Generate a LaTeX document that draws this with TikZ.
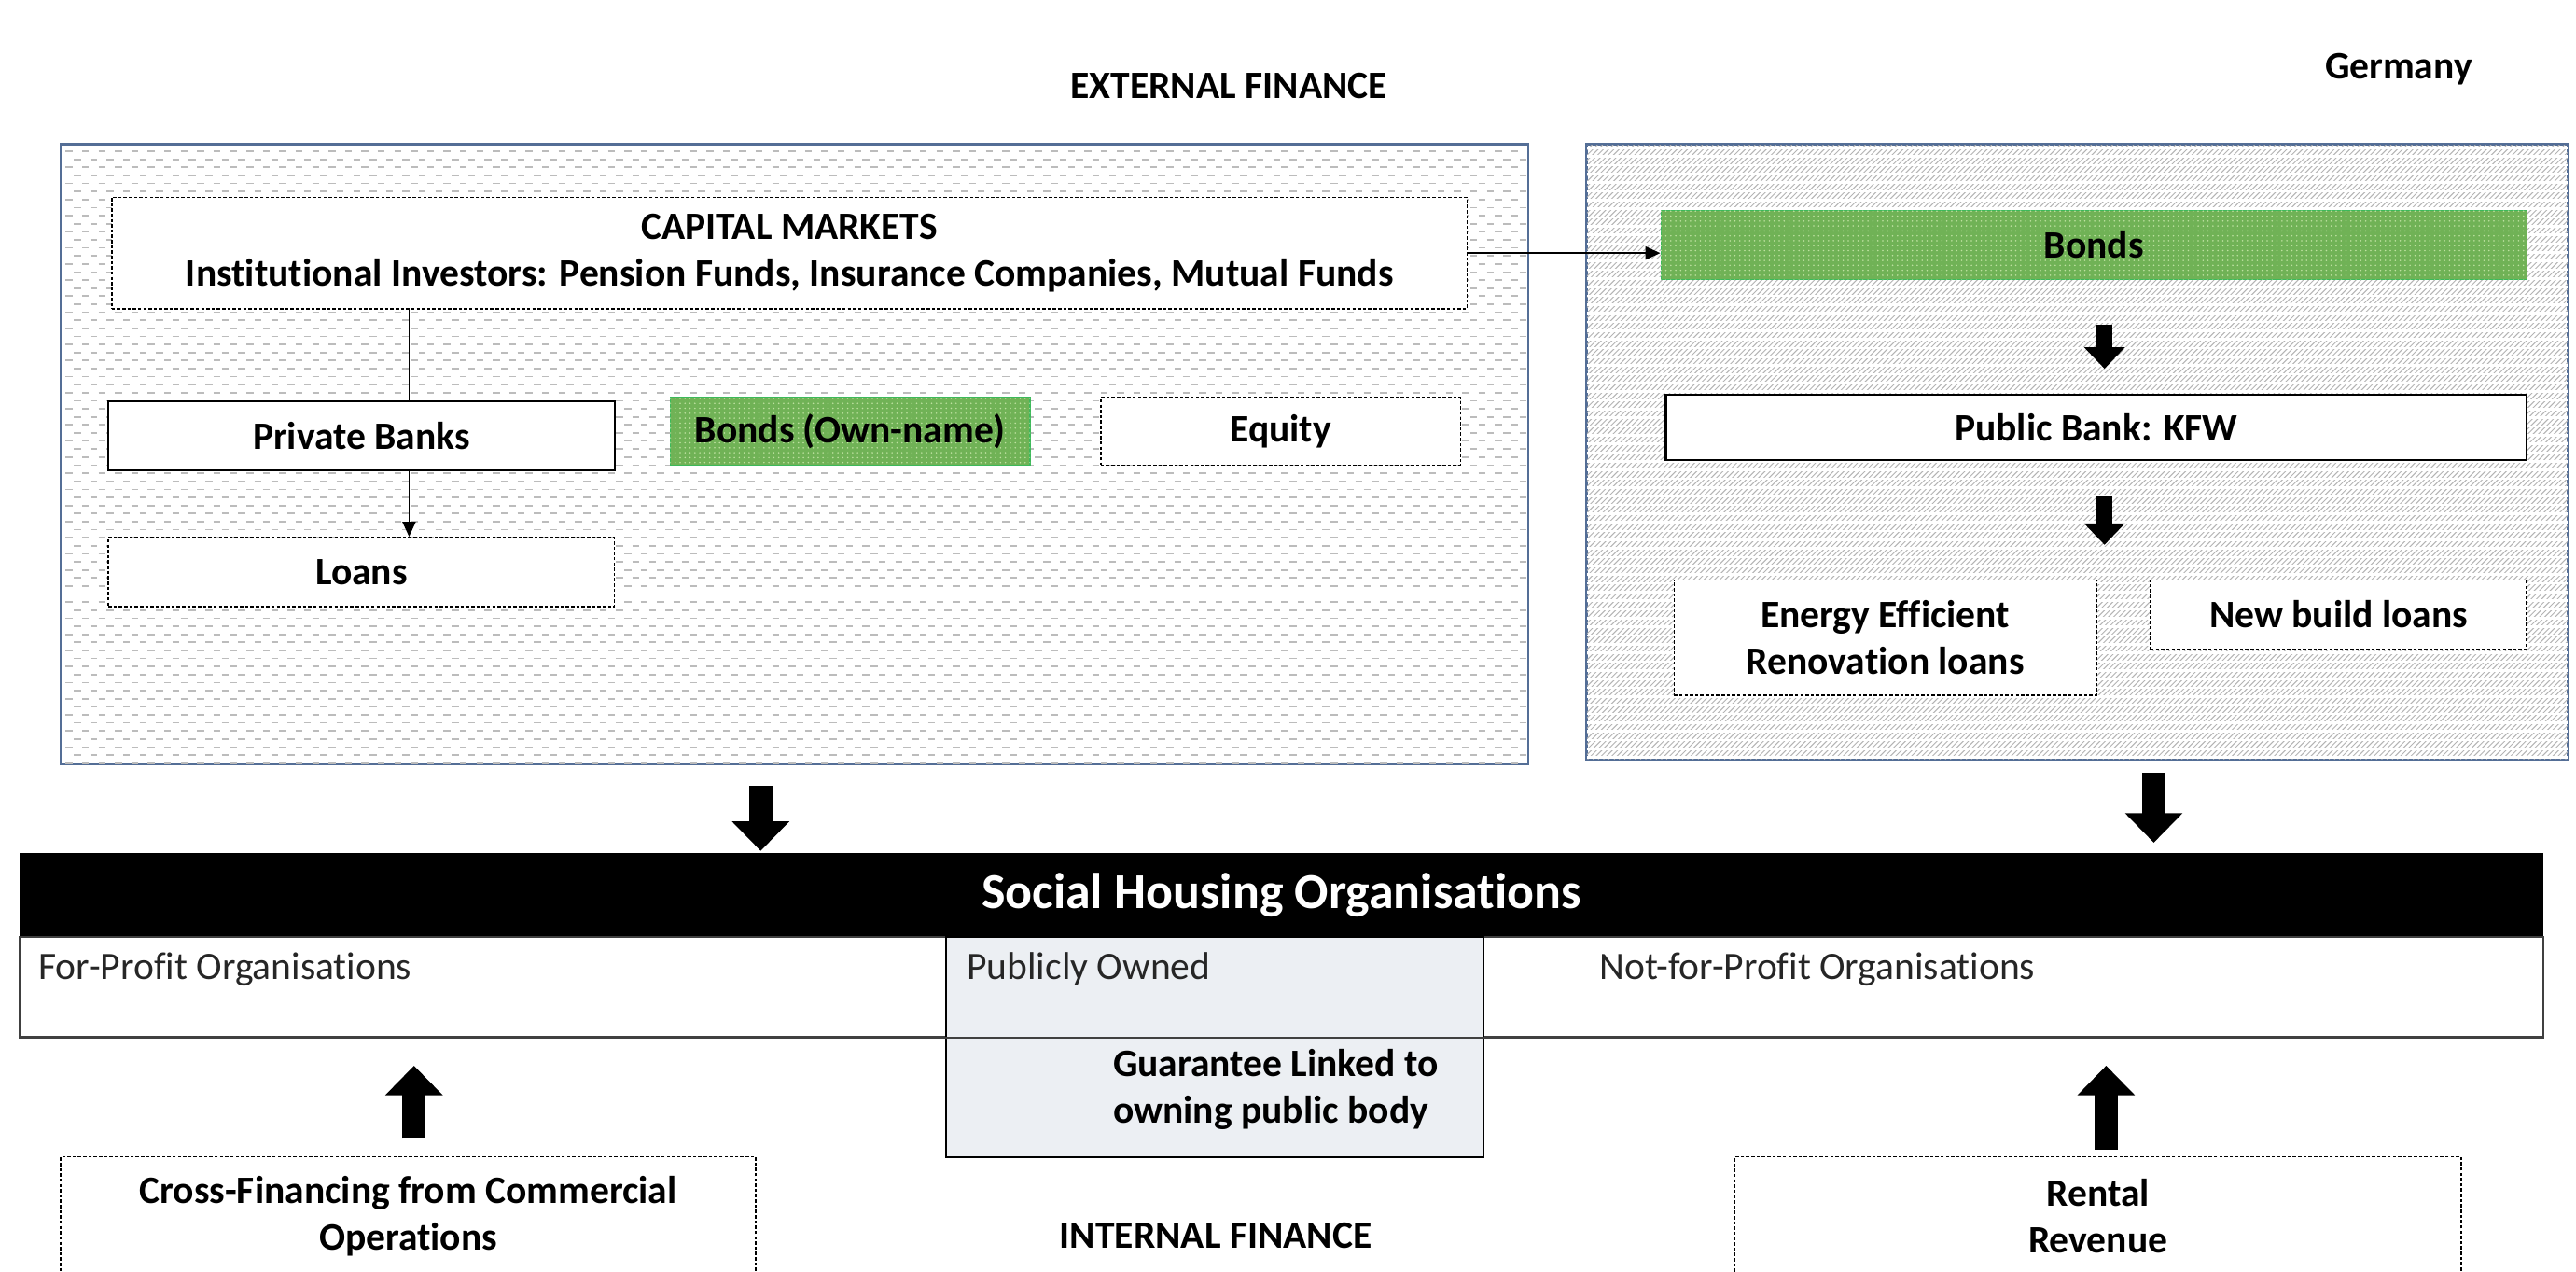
\documentclass[tikz,border=0pt]{standalone}
\usepackage{fontspec}
\setmainfont{Carlito}[Ligatures=NoCommon]
\usetikzlibrary{arrows.meta,patterns}
\definecolor{frameblue}{RGB}{84,110,150}
\definecolor{patgray}{RGB}{188,188,188}
\definecolor{hatchgray}{RGB}{180,180,180}
\definecolor{bondgreen}{RGB}{112,178,86}
\definecolor{bondedge}{RGB}{60,185,90}
\definecolor{bonddot}{RGB}{190,225,160}
\definecolor{pubfill}{RGB}{236,239,243}
\begin{document}
\begin{tikzpicture}[x=1pt,y=-1pt,
  txt/.style={font=\fontsize{23.6}{28.5}\selectfont\bfseries, align=center, text=black},
  reg/.style={font=\fontsize{23.6}{28.5}\selectfont, text=black!85},
  panel/.style={draw=frameblue, line width=0.9pt, inner sep=0pt},
  solidbox/.style={draw=black, line width=1.2pt, fill=white, inner sep=0pt, txt},
  dashbox/.style={draw=black, line width=0.9pt, dash pattern=on 2pt off 1.2pt, fill=white, inner sep=0pt, txt},
  greenbox/.style={draw=bondedge, line width=0.8pt, fill=bondgreen, inner sep=0pt, txt,
                   postaction={pattern=dots, pattern color=bonddot}},
  thinarrow/.style={draw=black, line width=0.9pt, -{Triangle[length=9pt,width=8pt]}},
  thinline/.style={draw=black, line width=0.9pt},
  midarrow/.style={draw=black, line width=10pt, -{Triangle[length=13pt,width=24pt]}},
  bigarrow/.style={draw=black, line width=14pt, -{Triangle[length=18pt,width=34pt]}}]
\useasboundingbox[fill=white] (0,0) rectangle (1568,773.5);

% background panels
\node[panel, fill=white, minimum width=893pt, minimum height=377pt] (leftbg) at (483.5,276.5) {};
\node[panel, fill=white, minimum width=597pt, minimum height=374pt] (rightbg) at (1264.5,275) {};
\begin{scope}
  \clip (leftbg.north west) rectangle (leftbg.south east);
  \foreach \i in {0,...,38} {
    \draw[patgray, line width=1.0pt, dash pattern=on 4.2pt off 5.8pt] (40,{92+\i*9.8}) -- (930,{92+\i*9.8});
    \draw[patgray, line width=1.0pt, dash pattern=on 4.2pt off 5.8pt, dash phase=5pt] (40,{96.9+\i*9.8}) -- (930,{96.9+\i*9.8});
  }
\end{scope}
\begin{scope}
  \clip (rightbg.north west) rectangle (rightbg.south east);
  \foreach \i in {0,...,305}
    \draw[hatchgray, line width=0.55pt] ({592+\i*3.2},462) -- ({966+\i*3.2},88);
  \foreach \i in {0,...,71}
    \draw[white, line width=1.5pt] (966,{90+\i*5.3}) -- (1563,{90+\i*5.3});
\end{scope}
\draw[frameblue, line width=0.9pt] (leftbg.north west) rectangle (leftbg.south east);
\draw[frameblue, line width=0.9pt] (rightbg.north west) rectangle (rightbg.south east);

% titles
\node[txt] (ext) at (748,52) {EXTERNAL FINANCE};
\node[txt] (ger) at (1460,42) {Germany};
\node[txt] (int) at (740,752) {INTERNAL FINANCE};

% left panel boxes
\node[dashbox, minimum width=825pt, minimum height=68pt] (cap) at (480.5,154)
  {CAPITAL MARKETS\\Institutional Investors: Pension Funds, Insurance Companies, Mutual Funds};
\node[solidbox, minimum width=308pt, minimum height=42pt] (pb) at (220,265) {Private Banks};
\node[greenbox, minimum width=219pt, minimum height=41pt] (bon) at (517.5,262.5) {Bonds (Own-name)};
\node[dashbox, minimum width=219pt, minimum height=41pt] (eq) at (779.5,262.5) {Equity};
\node[dashbox, minimum width=308pt, minimum height=42pt] (loans) at (220,348) {Loans};
\coordinate (lx) at (249,0);
\draw[thinline] (cap.south -| lx) -- (pb.north -| lx);
\draw[thinarrow] (pb.south -| lx) -- (loans.north -| lx);

% right panel boxes
\node[greenbox, minimum width=527pt, minimum height=42pt] (bondsR) at (1274.5,149) {Bonds};
\node[solidbox, minimum width=524pt, minimum height=40pt] (kfw) at (1276,260) {Public Bank: KFW};
\node[dashbox, minimum width=257pt, minimum height=70pt] (ee) at (1147.5,388) {Energy Efficient\\Renovation loans};
\node[dashbox, minimum width=229pt, minimum height=42pt] (nb) at (1423.5,374) {New build loans};
\coordinate (ax) at (1281,0);
\draw[thinarrow] (cap.east) -- (cap.east -| bondsR.west);
\draw[midarrow, shorten <=27pt, shorten >=15pt] (bondsR.south -| ax) -- (kfw.north -| ax);
\draw[midarrow, shorten <=21pt, shorten >=21pt] (kfw.south -| ax) -- (ee.north -| ax);

% social housing organisations
\node[fill=black, inner sep=0pt, minimum width=1536pt, minimum height=51pt, text=white,
      font=\fontsize{30.6}{34}\selectfont\bfseries] (sho) at (780,544.5) {Social Housing Organisations};
\node[draw=black!75, line width=1pt, fill=white, inner sep=0pt, minimum width=1536pt, minimum height=61pt] (band) at (780,600.5) {};
\node[draw=black, line width=1pt, fill=pubfill, inner sep=0pt, minimum width=327pt, minimum height=134pt] (pub) at (739.5,637) {};
\draw[black!75, line width=1.6pt] (band.south west) -- (band.south east);
\node[reg, anchor=west] (fp) at (20,590) {For-Profit Organisations};
\node[reg, anchor=west] (po) at (585,590) {Publicly Owned};
\node[reg, anchor=west] (nfp) at (970,590) {Not-for-Profit Organisations};
\node[txt, align=left, anchor=west] (guar) at (674,663) {Guarantee Linked to\\owning public body};

\coordinate (bl) at (463,0);
\coordinate (br) at (1311,0);
\draw[bigarrow, shorten <=13pt, shorten >=1pt] (leftbg.south -| bl) -- (sho.north -| bl);
\draw[bigarrow, shorten <=8pt, shorten >=6pt] (rightbg.south -| br) -- (sho.north -| br);

% internal finance
\node[dashbox, minimum width=423pt, minimum height=72pt] (cf) at (248.5,740) {Cross-Financing from Commercial\\Operations};
\node[dashbox, minimum width=442pt, minimum height=72pt] (rr) at (1277,740) {Rental\\Revenue};
\coordinate (ul) at (252,0);
\coordinate (ur) at (1282,0);
\draw[bigarrow, shorten <=11pt, shorten >=17pt] (cf.north -| ul) -- (band.south -| ul);
\draw[bigarrow, shorten <=4pt, shorten >=17pt] (rr.north -| ur) -- (band.south -| ur);
\end{tikzpicture}
\end{document}
